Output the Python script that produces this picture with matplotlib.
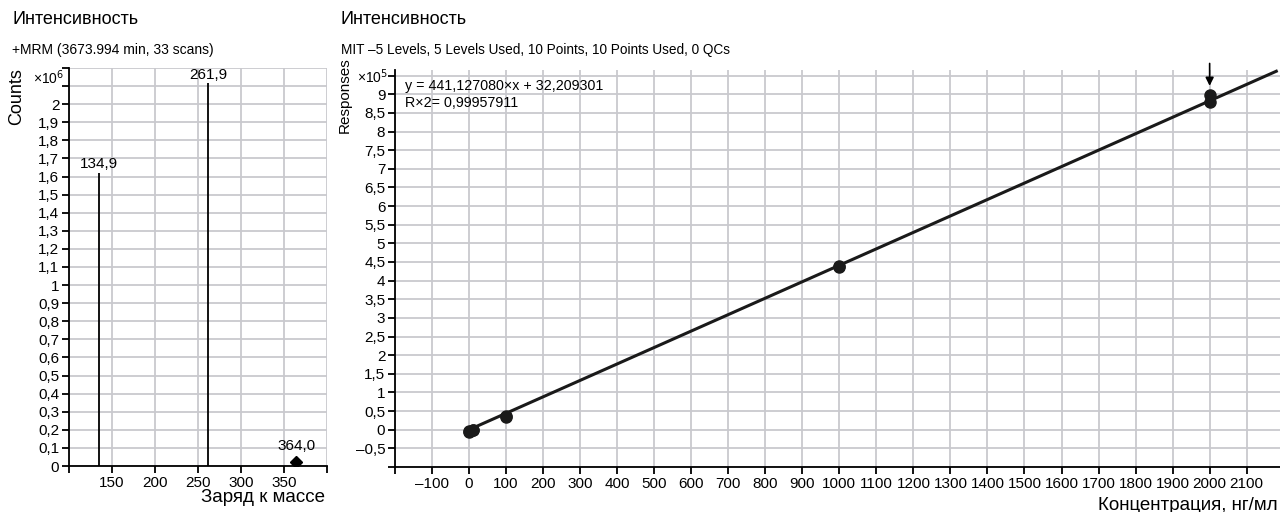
import numpy as np
import matplotlib
matplotlib.use('Agg')
import matplotlib.pyplot as plt
from matplotlib import font_manager

# font: narrow sans if we have it
fams = [f.name for f in font_manager.fontManager.ttflist]
narrow = 'Liberation Sans Narrow' if 'Liberation Sans Narrow' in fams else 'Liberation Sans'
plt.rcParams['font.family'] = [narrow, 'DejaVu Sans']

# spectrum data (x10^6 counts)
peak_mz = [134.9, 261.9]
peak_counts = [1.62, 2.115]
small_mz = [364.0]
small_counts = [0.02]

# calibration data (x10^5 responses)
conc = [1, 1, 10, 10, 100, 100, 1000, 1000, 2000, 2000]
resp = [-0.05, -0.04, -0.02, -0.01, 0.35, 0.36, 4.37, 4.39, 8.80, 8.97]
slope = 441.127080
intercept = 32.209301
r2 = 0.99957911

grid_c = '#c9c9ce'

def comma(v, fmt):
    return (fmt % v).replace('.', ',').replace('-', '\u2013')

fig = plt.figure(figsize=(12.8, 5.12), dpi=100)

# ---------- left: mass spectrum
ax1 = fig.add_axes([69/1280, 1-466/512, (327-69)/1280, (466-68)/512])
ax1.set_xlim(100, 400)
ax1.set_ylim(0, 2.2)
xt = np.arange(100, 401, 50)
ax1.set_xticks(xt)
ax1.set_xticklabels(['' if v in (100, 400) else '%d' % v for v in xt])
yt = np.round(np.arange(0, 2.21, 0.1), 1)
ax1.set_yticks(yt)
ax1.set_yticklabels(['' if v > 2.0 else ('0' if v == 0 else comma(v, '%g')) for v in yt])
ax1.grid(True, color=grid_c, lw=1.3)
ax1.set_axisbelow(True)
for s in ['top', 'right']:
    ax1.spines[s].set_visible(False)
for s in ['left', 'bottom']:
    ax1.spines[s].set_linewidth(1.3)
ax1.tick_params(labelsize=11, length=5, width=1.3, pad=2)

ax1.vlines(peak_mz, 0, peak_counts, color='black', lw=1.3)
for m, c in zip(peak_mz, peak_counts):
    ax1.text(m, c + 0.01, comma(m, '%.1f'), ha='center', va='bottom', fontsize=11)
ax1.plot(small_mz, small_counts, 'D', color='black', ms=6)
ax1.text(small_mz[0], small_counts[0] + 0.05, comma(small_mz[0], '%.1f'),
         ha='center', va='bottom', fontsize=11)

fig.text(33/1280, 1-78/512, '\u00d710$^6$', ha='left', va='center', fontsize=10)
fig.text(17/1280, 1-97/512, 'Counts', rotation=90, ha='center', va='center', fontsize=13)
fig.text(325/1280, 1-497/512, 'Заряд к массе', ha='right', va='center', fontsize=13.5)
fig.text(12/1280, 1-20/512, 'Интенсивность', ha='left', va='center', fontsize=13)
fig.text(12/1280, 1-50/512, '+MRM (3673.994 min, 33 scans)', ha='left', va='center', fontsize=10)

# ---------- right: calibration curve
ax2 = fig.add_axes([395/1280, 1-467/512, (1280-395)/1280, (467-70)/512])
ax2.set_xlim(-200, 2190)
ax2.set_ylim(-1, 9.65)
xt2 = np.arange(-200, 2101, 100)
ax2.set_xticks(xt2)
ax2.set_xticklabels(['' if v == -200 else ('\u2013%d' % -v if v < 0 else '%d' % v) for v in xt2])
yt2 = np.arange(-1, 9.51, 0.5)
ax2.set_yticks(yt2)
ax2.set_yticklabels(['' if v in (-1, 9.5) else comma(v, '%g') for v in yt2])
ax2.grid(True, color=grid_c, lw=1.3)
ax2.set_axisbelow(True)
for s in ['top', 'right']:
    ax2.spines[s].set_visible(False)
for s in ['left', 'bottom']:
    ax2.spines[s].set_linewidth(1.3)
ax2.tick_params(labelsize=11, length=5, width=1.3, pad=2)

lx = np.array([0, 2180])
ax2.plot(lx, (slope * lx + intercept) / 1e5, color='#1a1a1a', lw=2.2, clip_on=False)
ax2.plot(conc, resp, 'o', color='#1a1a1a', ms=8)
ax2.annotate('', xy=(2000, 9.15), xytext=(2000, 9.9),
             arrowprops=dict(arrowstyle='-|>', color='black', lw=1.2,
                             mutation_scale=12), annotation_clip=False)

fig.text(405/1280, 1-86/512, 'y = ' + comma(slope, '%.6f') + '\u00d7x + ' + comma(intercept, '%.6f'),
         ha='left', va='center', fontsize=10.3)
fig.text(405/1280, 1-103/512, 'R\u00d72= ' + comma(r2, '%.8f'), ha='left', va='center', fontsize=10.3)

fig.text(357/1280, 1-77/512, '\u00d710$^5$', ha='left', va='center', fontsize=10)
fig.text(345/1280, 1-95/512, 'Responses', rotation=90, ha='center', va='center', fontsize=11)
fig.text(1278/1280, 1-505/512, 'Концентрация, нг/мл', ha='right', va='center', fontsize=13.5)
fig.text(341/1280, 1-20/512, 'Интенсивность', ha='left', va='center', fontsize=13)
fig.text(341/1280, 1-50/512, 'MIT \u20135 Levels, 5 Levels Used, 10 Points, 10 Points Used, 0 QCs',
         ha='left', va='center', fontsize=9.8)

fig.savefig('out.png', dpi=100)
